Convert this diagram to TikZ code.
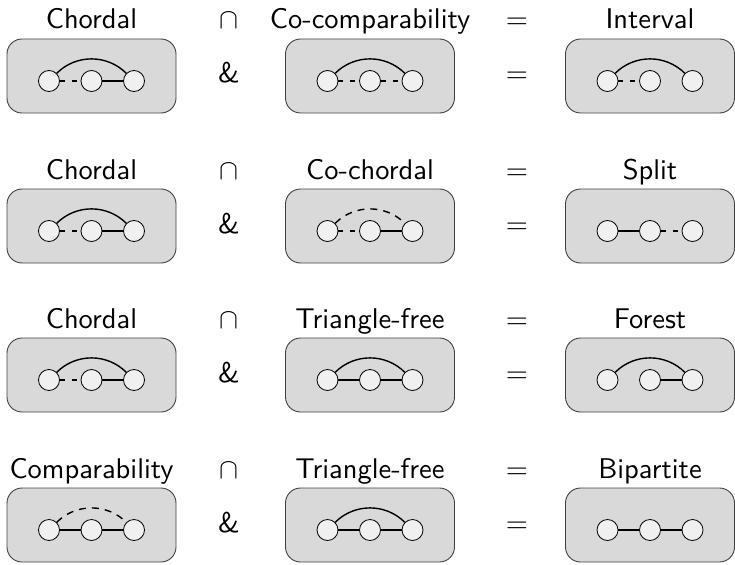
\documentclass[tikz,border=0pt]{standalone}
\begin{document}
\begin{tikzpicture}[x=1pt,y=1pt,
  gbox/.style={draw=black!75, line width=0.9pt, fill=black!15, rounded corners=15pt, minimum width=169pt, minimum height=74pt, inner sep=0pt},
  vtx/.style={circle, draw=black, line width=0.8pt, fill=black!6, minimum size=21pt, inner sep=0pt},
  lbl/.style={anchor=base, inner sep=0pt},
  se/.style={line width=1.5pt},
  de/.style={line width=1.5pt, dash pattern=on 5pt off 7pt},
  sarc/.style={line width=1.4pt},
  darc/.style={line width=1.4pt, dash pattern=on 7pt off 6pt},
]
\useasboundingbox (0,0) rectangle (735,-564);
\newcommand{\bigtxt}[1]{\scalebox{2.85}{\fontsize{10}{12}\selectfont\sffamily #1}}
\newcommand{\gbx}[3]{%
  \node[gbox] (#1) at (#2,{-#3+5}) {};
  \node[vtx] (#1a) at ({#2-42.5},-#3) {};
  \node[vtx] (#1b) at (#2,-#3) {};
  \node[vtx] (#1c) at ({#2+42.5},-#3) {};
}
\newcommand{\rowops}[2]{%
  \node[lbl] (cap#1) at (229,{-#2+52}) {\bigtxt{$\cap$}};
  \node[lbl] (eqh#1) at (517,{-#2+52}) {\bigtxt{$=$}};
  \node[lbl] (amp#1) at (229,{-#2-2}) {\bigtxt{\&}};
  \node[lbl] (eqb#1) at (517,{-#2-2}) {\bigtxt{$=$}};
}
% Row 1
\node[lbl] (l11) at (91.5,{-81+52}) {\bigtxt{Chordal}};
\node[lbl] (l12) at (370,{-81+52}) {\bigtxt{Co-comparability}};
\node[lbl] (l13) at (650,{-81+52}) {\bigtxt{Interval}};
\rowops{1}{81}
\gbx{g11}{91.5}{81}
\gbx{g12}{370}{81}
\gbx{g13}{650}{81}
\draw[de] (g11a) -- (g11b); \draw[se] (g11b) -- (g11c); \draw[sarc] (g11a) to[bend left=45] (g11c);
\draw[de] (g12a) -- (g12b); \draw[de] (g12b) -- (g12c); \draw[sarc] (g12a) to[bend left=45] (g12c);
\draw[de] (g13a) -- (g13b); \draw[sarc] (g13a) to[bend left=45] (g13c);
% Row 2
\node[lbl] (l21) at (91.5,{-231+52}) {\bigtxt{Chordal}};
\node[lbl] (l22) at (370,{-231+52}) {\bigtxt{Co-chordal}};
\node[lbl] (l23) at (650,{-231+52}) {\bigtxt{Split}};
\rowops{2}{231}
\gbx{g21}{91.5}{231}
\gbx{g22}{370}{231}
\gbx{g23}{650}{231}
\draw[de] (g21a) -- (g21b); \draw[se] (g21b) -- (g21c); \draw[sarc] (g21a) to[bend left=45] (g21c);
\draw[de] (g22a) -- (g22b); \draw[se] (g22b) -- (g22c); \draw[darc] (g22a) to[bend left=45] (g22c);
\draw[se] (g23a) -- (g23b); \draw[de] (g23b) -- (g23c);
% Row 3
\node[lbl] (l31) at (91.5,{-380+52}) {\bigtxt{Chordal}};
\node[lbl] (l32) at (370,{-380+52}) {\bigtxt{Triangle-free}};
\node[lbl] (l33) at (650,{-380+52}) {\bigtxt{Forest}};
\rowops{3}{380}
\gbx{g31}{91.5}{380}
\gbx{g32}{370}{380}
\gbx{g33}{650}{380}
\draw[de] (g31a) -- (g31b); \draw[se] (g31b) -- (g31c); \draw[sarc] (g31a) to[bend left=45] (g31c);
\draw[se] (g32a) -- (g32b); \draw[se] (g32b) -- (g32c); \draw[sarc] (g32a) to[bend left=45] (g32c);
\draw[se] (g33b) -- (g33c); \draw[sarc] (g33a) to[bend left=45] (g33c);
% Row 4
\node[lbl] (l41) at (91.5,{-530+52}) {\bigtxt{Comparability}};
\node[lbl] (l42) at (370,{-530+52}) {\bigtxt{Triangle-free}};
\node[lbl] (l43) at (650,{-530+52}) {\bigtxt{Bipartite}};
\rowops{4}{530}
\gbx{g41}{91.5}{530}
\gbx{g42}{370}{530}
\gbx{g43}{650}{530}
\draw[se] (g41a) -- (g41b); \draw[se] (g41b) -- (g41c); \draw[darc] (g41a) to[bend left=45] (g41c);
\draw[se] (g42a) -- (g42b); \draw[se] (g42b) -- (g42c); \draw[sarc] (g42a) to[bend left=45] (g42c);
\draw[se] (g43a) -- (g43b); \draw[se] (g43b) -- (g43c);
\end{tikzpicture}
\end{document}
